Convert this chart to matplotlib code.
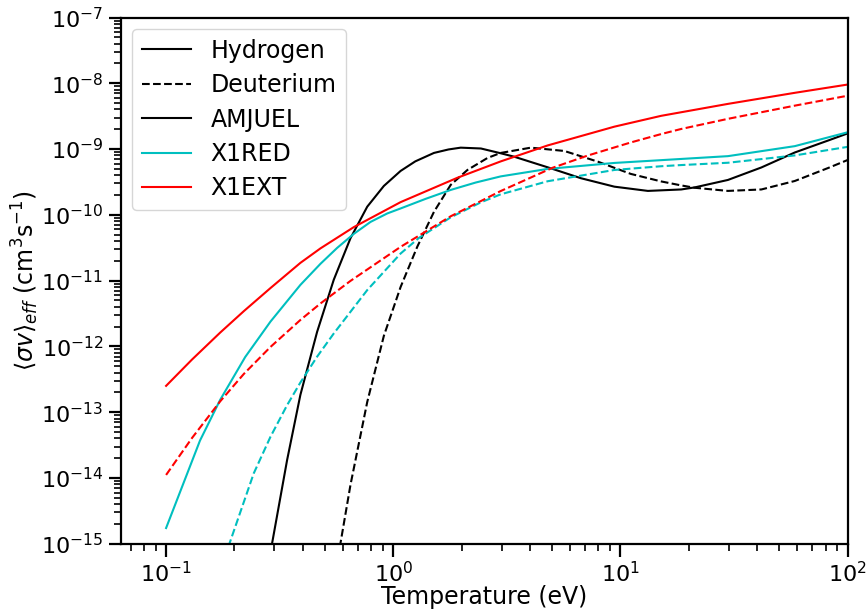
import matplotlib
matplotlib.use("Agg")
import matplotlib.pyplot as plt

# effective rate coefficients (T in eV, rate in cm^3 s^-1)
T_ext_h = [0.1, 0.13, 0.173, 0.22, 0.288, 0.39, 0.478, 0.67, 1.077, 1.915, 2.97,
           4.78, 9.40, 15.1, 29.7, 58.5, 100]
ext_h = [2.51e-13, 6.3e-13, 1.62e-12, 3.44e-12, 7.7e-12, 1.86e-11, 3.09e-11,
         6.50e-11, 1.56e-10, 3.66e-10, 6.49e-10, 1.135e-9, 2.19e-9, 3.20e-9,
         4.86e-9, 7.16e-9, 9.57e-9]
T_ext_d = [0.1, 0.13, 0.173, 0.22, 0.288, 0.39, 0.478, 0.648, 1.077, 1.789, 2.97,
           5.03, 7.17, 11.1, 15.1, 18.5, 29.7, 58.5, 100]
ext_d = [1.11e-14, 4.04e-14, 1.46e-13, 3.82e-13, 9.8e-13, 2.52e-12, 4.49e-12,
         9.9e-12, 3.26e-11, 9.5e-11, 2.3e-10, 5.2e-10, 7.96e-10, 1.26e-9,
         1.69e-9, 2.02e-9, 2.88e-9, 4.57e-9, 6.47e-9]

T_red_h = [0.1, 0.141, 0.173, 0.223, 0.288, 0.39, 0.478, 0.566, 0.670, 0.794,
           0.941, 1.077, 1.388, 1.789, 2.307, 2.97, 4.78, 9.40, 15.1, 29.7, 58.5, 100]
red_h = [1.73e-15, 3.7e-14, 1.54e-13, 6.9e-13, 2.38e-12, 8.6e-12, 1.80e-11,
         3.14e-11, 5.13e-11, 7.8e-11, 1.05e-10, 1.25e-10, 1.75e-10, 2.39e-10,
         3.1e-10, 3.84e-10, 4.99e-10, 6.15e-10, 6.78e-10, 7.8e-10, 1.107e-9, 1.80e-9]
T_red_d = [0.188, 0.243, 0.288, 0.341, 0.39, 0.462, 0.547, 0.768, 1.077, 1.297,
           1.789, 2.43, 2.97, 4.78, 9.40, 15.1, 18.5, 29.7, 58.5, 100]
red_d = [9e-16, 1.17e-14, 4.22e-14, 1.28e-13, 2.82e-13, 6.97e-13, 1.57e-12,
         7.18e-12, 2.58e-11, 4.46e-11, 9.16e-11, 1.55e-10, 2.05e-10, 3.24e-10,
         4.81e-10, 5.48e-10, 5.71e-10, 6.19e-10, 8.0e-10, 1.08e-9]

T_amj_h = [0.285, 0.2926, 0.341, 0.39, 0.462, 0.547, 0.648, 0.768, 0.909, 1.077,
           1.25, 1.51, 1.75, 1.98, 2.43, 2.97, 3.40, 4.78, 6.70, 9.40, 13.2, 18.5,
           21.2, 29.7, 41.7, 58.5, 82.1, 100]
amj_h = [6e-16, 1.0e-15, 1.88e-14, 1.83e-13, 1.66e-12, 1.03e-11, 4.41e-11, 1.33e-10,
         2.75e-10, 4.65e-10, 6.5e-10, 8.73e-10, 9.86e-10, 1.05e-9, 1.02e-9,
         8.63e-10, 7.66e-10, 5.28e-10, 3.6e-10, 2.68e-10, 2.31e-10, 2.43e-10,
         2.61e-10, 3.39e-10, 5.25e-10, 8.87e-10, 1.35e-9, 1.73e-9]
T_amj_d = [0.57, 0.585, 0.648, 0.768, 0.909, 1.077, 1.276, 1.51, 1.789, 2.12, 2.60,
           2.97, 4.03, 5.66, 7.94, 11.1, 15.1, 18.5, 21.2, 29.7, 41.7, 58.5, 82.1, 100]
amj_d = [6e-16, 1.0e-15, 7.85e-15, 1.43e-13, 1.45e-12, 8.0e-12, 3.29e-11, 1.11e-10,
         2.85e-10, 4.81e-10, 7.33e-10, 8.73e-10, 1.05e-9, 9.35e-10, 6.44e-10,
         4.19e-10, 3.22e-10, 2.8e-10, 2.58e-10, 2.31e-10, 2.43e-10, 3.27e-10,
         5.16e-10, 6.82e-10]

plt.rcParams["font.size"] = 16

fig = plt.figure(figsize=(8.68, 6.12), dpi=100)
ax = fig.add_axes([0.139, 0.1116, 0.8376, 0.8598])

ax.plot(T_amj_h, amj_h, color="k", lw=1.5, ls="-")
ax.plot(T_amj_d, amj_d, color="k", lw=1.5, ls="--")
ax.plot(T_red_h, red_h, color="c", lw=1.5, ls="-")
ax.plot(T_red_d, red_d, color="c", lw=1.5, ls="--")
ax.plot(T_ext_h, ext_h, color="r", lw=1.5, ls="-")
ax.plot(T_ext_d, ext_d, color="r", lw=1.5, ls="--")

ax.set_xscale("log")
ax.set_yscale("log")
ax.set_xlim(10 ** -1.2, 100)
ax.set_ylim(1e-15, 1e-7)
ax.set_xlabel("Temperature (eV)", fontsize=17, labelpad=-1)
ax.set_ylabel(r"$\langle\sigma v\rangle_{eff}$ (cm$^3$s$^{-1}$)", fontsize=17, labelpad=0)

for s in ax.spines.values():
    s.set_linewidth(1.6)
ax.tick_params(which="major", length=9, width=1.6, labelsize=16)
ax.tick_params(which="minor", length=5, width=1.2)

# legend proxies: style first, then the three rate sets
handles = [plt.Line2D([], [], color="k", lw=1.5, ls="-"),
           plt.Line2D([], [], color="k", lw=1.5, ls="--"),
           plt.Line2D([], [], color="k", lw=1.5, ls="-"),
           plt.Line2D([], [], color="c", lw=1.5, ls="-"),
           plt.Line2D([], [], color="r", lw=1.5, ls="-")]
labels = ["Hydrogen", "Deuterium", "AMJUEL", "X1RED", "X1EXT"]
ax.legend(handles, labels, loc="upper left", fontsize=17, handlelength=2.1,
          handletextpad=0.8, borderaxespad=0.5, labelspacing=0.44)

fig.savefig("out.png", dpi=100)
